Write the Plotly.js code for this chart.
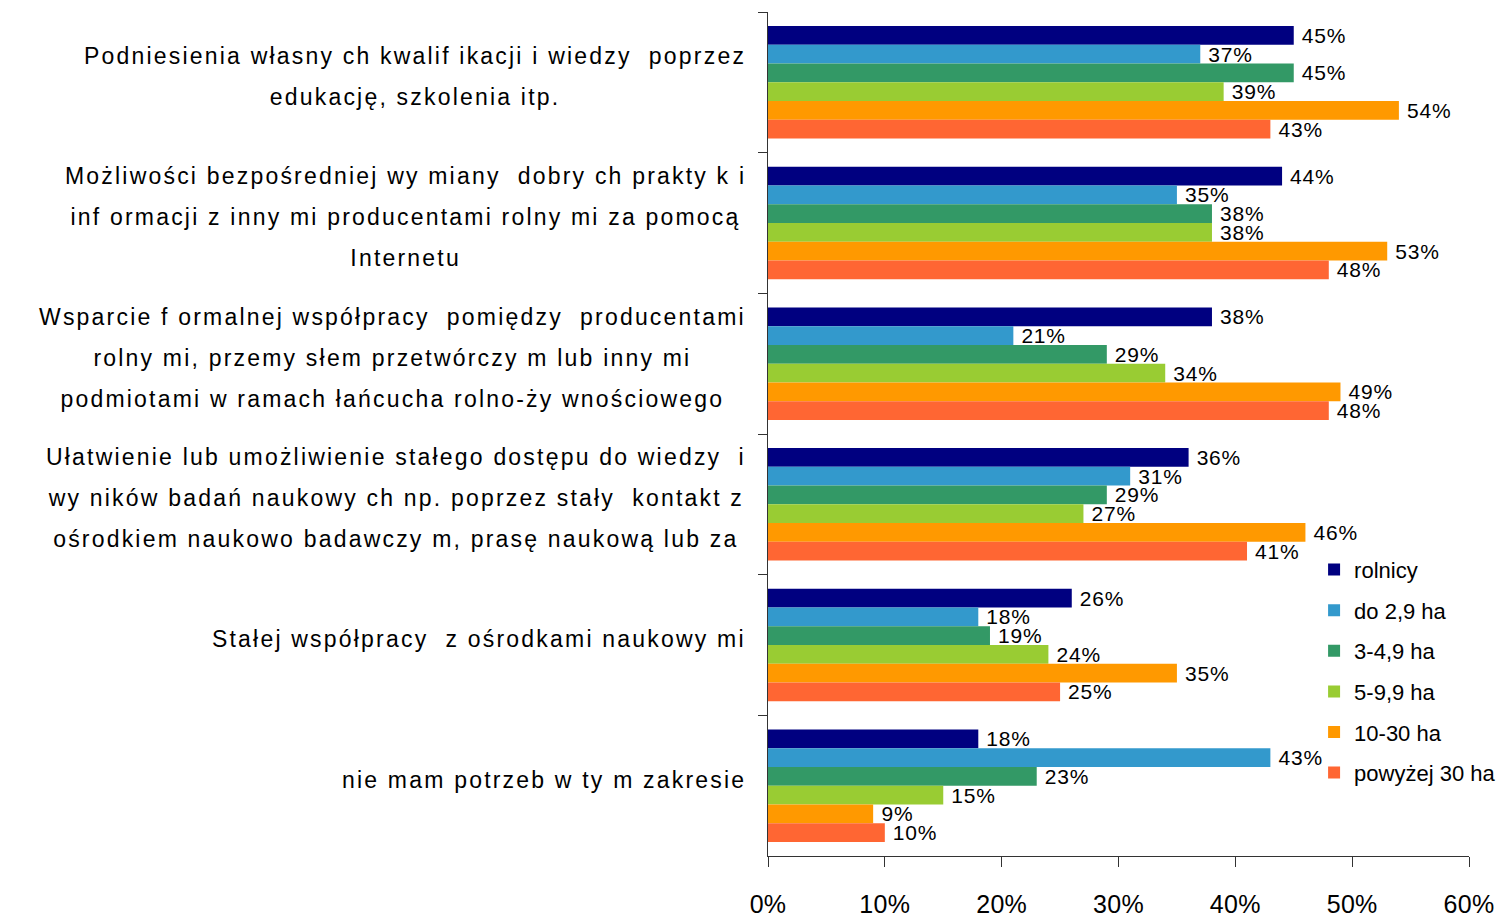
<!DOCTYPE html>
<html><head><meta charset="utf-8">
<script src="https://cdn.plot.ly/plotly-3.0.1.min.js"></script>
<style>
body{margin:0;background:#fff}#chart{width:1505px;height:919px}
#chart .annotation-text{letter-spacing:2.2px}
#chart .bartext{letter-spacing:0.8px}
#chart .xtick text{letter-spacing:0.3px}
</style>
</head><body><div id="chart"></div>
<script>
const categories = [
  "Podniesienia własny ch kwalif ikacji i wiedzy  poprzez<br>edukację, szkolenia itp.",
  "Możliwości bezpośredniej wy miany  dobry ch prakty k i<br>inf ormacji z inny mi producentami rolny mi za pomocą<br>Internetu",
  "Wsparcie f ormalnej współpracy  pomiędzy  producentami<br>rolny mi, przemy słem przetwórczy m lub inny mi<br>podmiotami w ramach łańcucha rolno-ży wnościowego",
  "Ułatwienie lub umożliwienie stałego dostępu do wiedzy  i<br>wy ników badań naukowy ch np. poprzez stały  kontakt z<br>ośrodkiem naukowo badawczy m, prasę naukową lub za",
  "Stałej współpracy  z ośrodkami naukowy mi",
  "nie mam potrzeb w ty m zakresie"
];
const seriesNames = ["rolnicy", "do 2,9 ha", "3-4,9 ha", "5-9,9 ha", "10-30 ha", "powyżej 30 ha"];
const rolnicy   = [0.45, 0.44, 0.38, 0.36, 0.26, 0.18];
const do29      = [0.37, 0.35, 0.21, 0.31, 0.18, 0.43];
const ha3_49    = [0.45, 0.38, 0.29, 0.29, 0.19, 0.23];
const ha5_99    = [0.39, 0.38, 0.34, 0.27, 0.24, 0.15];
const ha10_30   = [0.54, 0.53, 0.49, 0.46, 0.35, 0.09];
const ha30plus  = [0.43, 0.48, 0.48, 0.41, 0.25, 0.10];
const xTicks = [0, 0.1, 0.2, 0.3, 0.4, 0.5, 0.6];
const xTickLabels = ["0%", "10%", "20%", "30%", "40%", "50%", "60%"];

const seriesValues = [rolnicy, do29, ha3_49, ha5_99, ha10_30, ha30plus];
const colors = ["#000080", "#3399CC", "#339966", "#99CC33", "#FF9900", "#FF6633"];
const FONT = '"Liberation Sans", Arial, sans-serif';

const traces = seriesValues.map((vals, i) => ({
  type: 'bar', orientation: 'h',
  name: seriesNames[i], legendgroup: 'g' + i,
  y: categories, x: vals,
  marker: {color: colors[i]},
  text: vals.map(v => '\u00a0' + Math.round(v * 100) + '%'),
  textposition: 'outside', constraintext: 'none', cliponaxis: false,
  textfont: {family: FONT, size: 21, color: '#000'},
  hoverinfo: 'none'
}));

// category labels: one annotation per line, centred within block
const cv = document.createElement('canvas').getContext('2d');
const LABEL_SIZE = 23, LS = 2.2;
cv.font = LABEL_SIZE + 'px "Liberation Sans"';
const annotations = [];
categories.forEach((cat) => {
  const lines = cat.split('<br>');
  const w = Math.max(...lines.map(l => cv.measureText(l).width + l.length * LS)) + 4;
  const n = lines.length;
  lines.forEach((ln, j) => {
    annotations.push({
      xref: 'paper', yref: 'y', x: 0, y: cat,
      xanchor: 'right', yanchor: 'middle', xshift: -18,
      yshift: ((n - 1) / 2 - j) * 41 + 6,
      width: w, align: 'center', showarrow: false,
      text: ln, font: {family: FONT, size: LABEL_SIZE, color: '#000'}
    });
  });
});

const layout = {
  width: 1505, height: 919,
  margin: {l: 768, r: 36, t: 12, b: 63, autoexpand: false},
  paper_bgcolor: '#fff', plot_bgcolor: '#fff',
  barmode: 'group', bargap: 0.2, bargroupgap: 0,
  showlegend: true,
  legend: {x: 0.779, y: 0.364, xanchor: 'left', yanchor: 'top',
    traceorder: 'grouped', tracegroupgap: 9,
    font: {family: FONT, size: 22, color: '#000'}, bgcolor: 'rgba(0,0,0,0)'},
  xaxis: {range: [0, 0.6], tickvals: xTicks, ticktext: xTickLabels,
    showgrid: false, zeroline: false, showline: true, linecolor: '#333', linewidth: 1,
    ticks: 'outside', ticklen: 10, tickcolor: '#333', ticklabelstandoff: 16,
    tickfont: {family: FONT, size: 25, color: '#000'}},
  yaxis: {type: 'category', autorange: 'reversed', showticklabels: false,
    tickson: 'boundaries', ticks: 'outside', ticklen: 9, tickcolor: '#333',
    showgrid: false, zeroline: false, showline: true, linecolor: '#333', linewidth: 1},
  annotations: annotations,
  font: {family: FONT}
};
Plotly.newPlot('chart', traces, layout, {staticPlot: true});
</script></body></html>
